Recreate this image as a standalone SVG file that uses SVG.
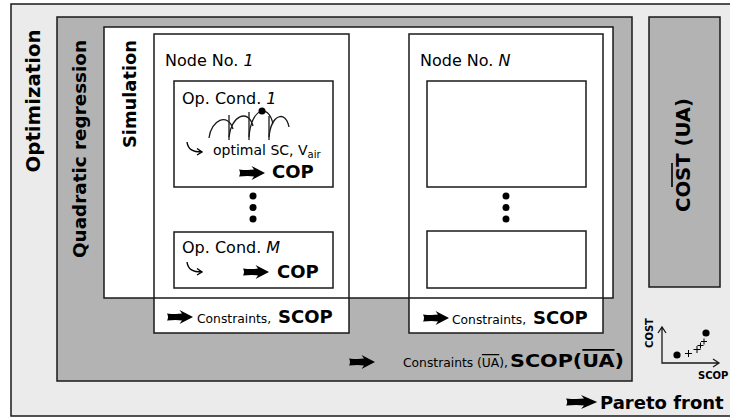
<svg xmlns="http://www.w3.org/2000/svg" width="730" height="417" viewBox="0 0 730 417">
<style>
.t{font-family:"DejaVu Sans","Liberation Sans",sans-serif;fill:#000}
.b{font-weight:bold}
.box{stroke:#1a1a1a;stroke-width:1.5}
.ln{stroke:#1a1a1a;stroke-width:1.3;fill:none}
</style>
<defs>
<path id="fa" d="M0,-3.6 Q8,-2.6 15,-3.4 L12.5,-7 L26,0 L12.5,7 L15,3.4 Q8,2.6 0,3.6 Q2,0 0,-3.6 Z" fill="#000"/>
<path id="hook" d="M0,0 C1,7 5,10 15,10 M10,6.5 L15,10 L10,13" fill="none" stroke="#000" stroke-width="1.4"/>
</defs>
<rect width="730" height="417" fill="#fff"/>
<g id="optimization">
<rect class="box" x="11" y="4" width="730" height="412" fill="#ebebeb"/>
<text class="t b" font-size="19" transform="translate(40,101) rotate(-90)" text-anchor="middle" textLength="143" lengthAdjust="spacingAndGlyphs">Optimization</text>
</g>
<g id="quadratic-regression">
<rect class="box" x="57" y="17" width="575" height="364" fill="#b3b3b3"/>
<text class="t b" font-size="18" transform="translate(86,149) rotate(-90)" text-anchor="middle" textLength="218" lengthAdjust="spacingAndGlyphs">Quadratic regression</text>
</g>
<g id="cost">
<rect class="box" x="649" y="17" width="71" height="270" fill="#b3b3b3"/>
<text class="t b" font-size="19" transform="translate(690,155) rotate(-90)" text-anchor="middle" textLength="114" lengthAdjust="spacingAndGlyphs">COST (UA)</text>
<line x1="672" y1="163" x2="672" y2="187" stroke="#000" stroke-width="1.6"/>
</g>
<g id="simulation">
<rect x="104" y="27" width="509" height="271" fill="#fff"/>
<text class="t b" font-size="18" transform="translate(136,94) rotate(-90)" text-anchor="middle" textLength="108" lengthAdjust="spacingAndGlyphs">Simulation</text>
</g>
<g id="node-1">
<rect class="box" x="154" y="34" width="195" height="299" fill="#fff"/>
<text class="t" font-size="16" x="165" y="66">Node No. <tspan font-style="italic">1</tspan></text>
<text class="t" font-size="12.3" x="197" y="323">Constraints,</text>
<text class="t b" font-size="18" x="278" y="323">SCOP</text>
<circle cx="253" cy="196" r="3.5"/>
<circle cx="253" cy="207.5" r="3.5"/>
<circle cx="253" cy="219" r="3.5"/>
</g>
<g id="op-cond-1">
<rect class="box" x="174" y="81" width="159" height="106" fill="#fff"/>
<text class="t" font-size="16" x="182" y="104">Op. Cond. <tspan font-style="italic">1</tspan></text>
<path class="ln" d="M209,138 C211,120 228,112 233,129 M229,137 C231,116 248,108 253,126 M249,137 C251,109 268,102 273,124 M269,137 C271,114 286,110 289,127" stroke-width="1.4"/>
<path class="ln" d="M229,115 V140 M249,112 V140 M269,116 V140" stroke-width="1"/>
<circle cx="262" cy="111" r="3.5"/>
<use href="#hook" x="187" y="142"/>
<text class="t" font-size="14" x="213" y="155">optimal SC, V<tspan font-size="10" dy="3">air</tspan></text>
<text class="t b" font-size="18" x="272" y="178">COP</text>
</g>
<g id="op-cond-m">
<rect class="box" x="174" y="232" width="159" height="56" fill="#fff"/>
<text class="t" font-size="16" x="182" y="253">Op. Cond. <tspan font-style="italic">M</tspan></text>
<use href="#hook" x="187" y="262"/>
<text class="t b" font-size="18" x="277" y="278">COP</text>
</g>
<g id="node-n">
<rect class="box" x="409" y="34" width="194" height="299" fill="#fff"/>
<text class="t" font-size="16" x="420" y="66">Node No. <tspan font-style="italic">N</tspan></text>
<rect class="box" x="427" y="81" width="159" height="106" fill="#fff"/>
<circle cx="506" cy="196" r="3.5"/>
<circle cx="506" cy="207.5" r="3.5"/>
<circle cx="506" cy="219" r="3.5"/>
<rect class="box" x="427" y="231" width="159" height="57" fill="#fff"/>
<text class="t" font-size="12.3" x="452" y="324">Constraints,</text>
<text class="t b" font-size="18" x="533" y="324">SCOP</text>
</g>
<rect class="box" x="104" y="27" width="509" height="271" fill="none"/>
<g id="regression-output">
<text class="t" font-size="12.5" x="403" y="367" textLength="105" lengthAdjust="spacingAndGlyphs">Constraints (<tspan text-decoration="overline">UA</tspan>),</text>
<text class="t b" font-size="18" x="510" y="367" textLength="114" lengthAdjust="spacingAndGlyphs">SCOP(<tspan text-decoration="overline">UA</tspan>)</text>
</g>
<g id="pareto-plot">
<path class="ln" d="M662,328 V363 H718 M658,333 L662,327 L666,333 M713,359 L719,363 L713,367" stroke-width="1.8"/>
<circle cx="677" cy="355" r="3.6"/>
<circle cx="706" cy="333" r="3.6"/>
<path d="M685,353.5 h7 M688.5,350 v7 M693.5,349.5 h7 M697,346 v7 M697.5,345.5 h6 M700.5,342.5 v6 M701,341.5 h6 M704,338.5 v6" stroke="#000" stroke-width="1"/>
<text class="t b" font-size="10" transform="translate(653,333) rotate(-90)" text-anchor="middle">COST</text>
<text class="t b" font-size="10" x="698" y="379">SCOP</text>
</g>
<g id="pareto-front">
<text class="t b" font-size="18" x="600" y="409">Pareto front</text>
</g>
<g id="connectors">
<use href="#fa" x="239" y="173"/>
<use href="#fa" x="243" y="272"/>
<use href="#fa" x="167" y="317"/>
<use href="#fa" x="423" y="318"/>
<use href="#fa" x="349" y="362"/>
<use href="#fa" transform="translate(566,402) scale(1.2,1)"/>
</g>
</svg>
